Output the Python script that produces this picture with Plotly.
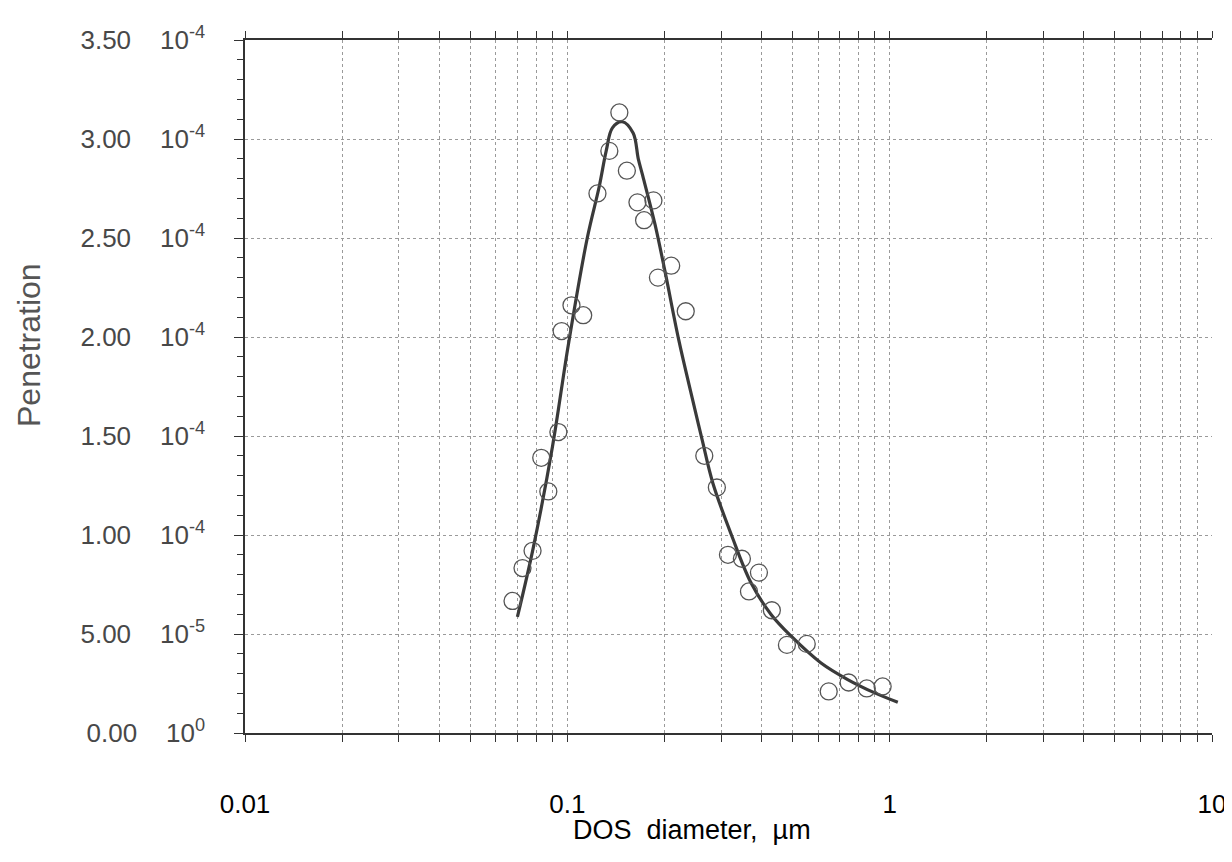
import plotly.graph_objects as go

# Measured points (DOS diameter in um, penetration)
meas_x = [0.0676, 0.0726, 0.078, 0.083, 0.0873, 0.0938, 0.096, 0.103, 0.112, 0.124,
          0.135, 0.145, 0.153, 0.165, 0.173, 0.185, 0.191, 0.21, 0.233, 0.266,
          0.291, 0.315, 0.348, 0.366, 0.393, 0.431, 0.48, 0.553, 0.647, 0.746,
          0.849, 0.951]
meas_y = [0.667e-4, 0.833e-4, 0.92e-4, 1.39e-4, 1.22e-4, 1.52e-4, 2.03e-4, 2.16e-4, 2.11e-4, 2.725e-4,
          2.94e-4, 3.134e-4, 2.84e-4, 2.68e-4, 2.59e-4, 2.69e-4, 2.30e-4, 2.36e-4, 2.13e-4, 1.40e-4,
          1.24e-4, 0.90e-4, 0.88e-4, 0.715e-4, 0.81e-4, 0.62e-4, 0.445e-4, 0.45e-4, 0.21e-4, 0.255e-4,
          0.225e-4, 0.235e-4]

# Fitted curve
fit_x = [0.070, 0.0785, 0.090, 0.1007, 0.1153, 0.1256, 0.132, 0.138, 0.148, 0.160,
         0.166, 0.171, 0.187, 0.201, 0.222, 0.245, 0.262, 0.283, 0.323, 0.371,
         0.428, 0.494, 0.611, 0.741, 0.892, 1.06]
fit_y = [0.586e-4, 0.94e-4, 1.45e-4, 1.96e-4, 2.50e-4, 2.76e-4, 2.94e-4, 3.056e-4, 3.087e-4, 3.03e-4,
         2.90e-4, 2.82e-4, 2.57e-4, 2.33e-4, 1.98e-4, 1.68e-4, 1.48e-4, 1.26e-4, 1.0e-4, 0.76e-4,
         0.60e-4, 0.49e-4, 0.355e-4, 0.27e-4, 0.205e-4, 0.155e-4]

x_tickvals = [0.01, 0.1, 1, 10]
x_ticktext = ["0.01", "0.1", "1", "10"]
x_minorvals = [m * d for d in (0.01, 0.1, 1) for m in range(2, 10)]

y_tickvals = [0, 0.5e-4, 1.0e-4, 1.5e-4, 2.0e-4, 2.5e-4, 3.0e-4, 3.5e-4]
y_mant = ["0.00", "5.00", "1.00", "1.50", "2.00", "2.50", "3.00", "3.50"]
y_exp = ["0", "-5", "-4", "-4", "-4", "-4", "-4", "-4"]
y_ticktext = [f"{m}&nbsp;&nbsp;&nbsp;&nbsp;10<sup>{e}</sup>" for m, e in zip(y_mant, y_exp)]

# page body has an 8px margin; plot area target in page coords: x 245..1212, y 40..733
OFF = 8
W, H = 1220, 846
L, T = 245 - OFF, 40 - OFF
R = OFF + W - 1212
B = OFF + H - 733
PW, PH = W - L - R, H - T - B
PLOT_LEFT, PLOT_BOTTOM = OFF + L, OFF + H - B

fig = go.Figure()
fig.add_trace(go.Scatter(x=fit_x, y=fit_y, mode="lines", line_shape="spline",
                         line=dict(color="#3a3a3a", width=3.2), showlegend=False))
fig.add_trace(go.Scatter(x=meas_x, y=meas_y, mode="markers",
                         marker=dict(symbol="circle-open", size=17, color="#555555",
                                     line=dict(width=1.3, color="#555555")),
                         showlegend=False))

fig.update_layout(
    width=W, height=H,
    margin=dict(l=L, r=R, t=T, b=B),
    paper_bgcolor="white", plot_bgcolor="white",
    font=dict(family="Liberation Sans, Arial, sans-serif"),
    xaxis=dict(
        type="log", range=[-2, 1], automargin=False,
        tickmode="array", tickvals=x_tickvals, ticktext=x_ticktext,
        tickfont=dict(size=26, color="#000000"),
        ticks="outside", ticklen=7, tickcolor="#333333",
        showline=True, linecolor="#333333", linewidth=1.5, mirror="ticks",
        showgrid=True, gridcolor="#9a9a9a", griddash="dot", gridwidth=1,
        ticklabelstandoff=40,
        minor=dict(tickvals=x_minorvals, ticks="outside", ticklen=7, tickcolor="#333333",
                   showgrid=True, gridcolor="#9a9a9a", griddash="dot", gridwidth=1),
        zeroline=False,
    ),
    yaxis=dict(
        range=[0, 3.5e-4], automargin=False,
        tickmode="array", tickvals=y_tickvals, ticktext=y_ticktext,
        tickfont=dict(size=26, color="#484848"),
        ticks="outside", ticklen=9, tickcolor="#333333",
        showline=True, linecolor="#333333", linewidth=1.5,
        showgrid=True, gridcolor="#9a9a9a", griddash="dot", gridwidth=1,
        ticklabelstandoff=24,
        minor=dict(dtick=0.1e-4, tick0=0, ticks="outside", ticklen=6, tickcolor="#333333",
                   showgrid=False),
        zeroline=False,
    ),
    annotations=[
        dict(text="DOS&nbsp;&nbsp;diameter,&nbsp;&nbsp;µm", xref="paper", yref="paper",
             x=(692 - PLOT_LEFT) / PW, y=-(830 - PLOT_BOTTOM) / PH,
             xanchor="center", yanchor="middle",
             showarrow=False, font=dict(size=27, color="#000000")),
        dict(text="Penetration", xref="paper", yref="paper",
             x=-(PLOT_LEFT - 29) / PW, y=(PLOT_BOTTOM - 345) / PH,
             xanchor="center", yanchor="middle",
             textangle=-90, showarrow=False, font=dict(size=32, color="#555555")),
    ],
)

fig.write_html("out.html")
